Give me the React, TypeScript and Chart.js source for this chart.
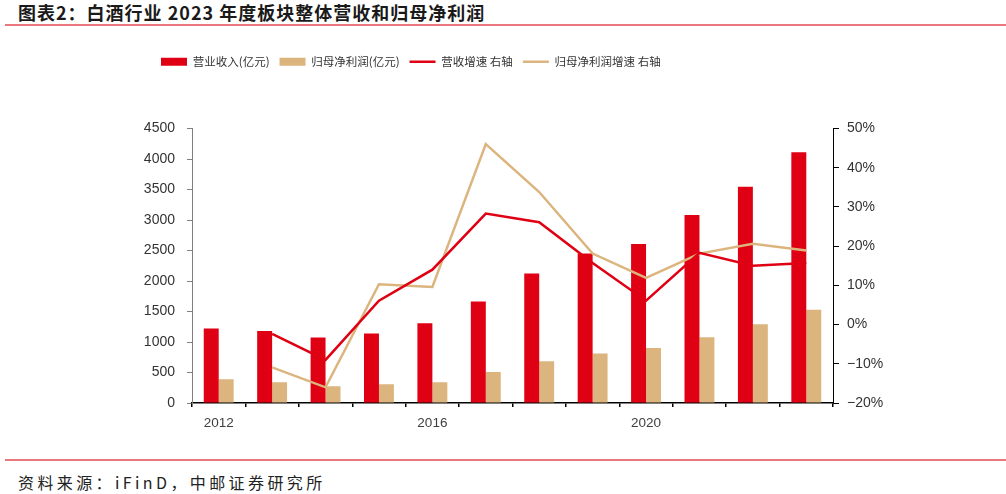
import React, { useEffect, useRef } from 'react';
import { Chart, registerables } from 'chart.js';

Chart.register(...registerables);

const years = ['2012', '2013', '2014', '2015', '2016', '2017', '2018', '2019', '2020', '2021', '2022', '2023'];
const shownYearLabels = ['2012', '2016', '2020'];
const revenue = [1220, 1182, 1073, 1138, 1309, 1664, 2124, 2452, 2606, 3083, 3547, 4111];
const netProfit = [389, 340, 274, 307, 340, 509, 685, 810, 903, 1079, 1292, 1527];
const revenueGrowth = [null, -2.4, -9.0, 6.1, 14.0, 28.3, 26.1, 15.7, 6.1, 18.3, 15.0, 15.7];
const profitGrowth = [null, -10.9, -16.0, 10.3, 9.6, 46.0, 33.8, 18.1, 11.9, 18.1, 20.6, 18.9];
const seriesNames = ['营业收入(亿元)', '归母净利润(亿元)', '营收增速 右轴', '归母净利润增速 右轴'];

const RED = '#E00014';
const TAN = '#DCB47E';
const CJK = "'Noto Sans CJK SC', sans-serif";
const SANS = "'Liberation Sans', Arial, sans-serif";

const legendShift = {
  id: 'legendShift',
  afterLayout(chart: any) {
    const lg = chart.legend;
    if (lg) {
      lg.left += 11;
      lg.right += 11;
    }
  },
};

function ChartView() {
  const ref = useRef<HTMLCanvasElement | null>(null);
  useEffect(() => {
    if (!ref.current) return;
    const chart = new Chart(ref.current, {
      type: 'bar',
      data: {
        labels: years,
        datasets: [
          { type: 'bar', label: seriesNames[0], data: revenue, backgroundColor: RED, borderWidth: 0, yAxisID: 'y', order: 2, categoryPercentage: 0.56, barPercentage: 1.0 },
          { type: 'bar', label: seriesNames[1], data: netProfit, backgroundColor: TAN, borderWidth: 0, yAxisID: 'y', order: 2, categoryPercentage: 0.56, barPercentage: 1.0 },
          { type: 'line', label: seriesNames[2], data: revenueGrowth, borderColor: RED, backgroundColor: RED, borderWidth: 2.5, pointRadius: 0, tension: 0, yAxisID: 'y1', order: 1 },
          { type: 'line', label: seriesNames[3], data: profitGrowth, borderColor: TAN, backgroundColor: TAN, borderWidth: 2.5, pointRadius: 0, tension: 0, yAxisID: 'y1', order: 1 },
        ],
      } as any,
      options: {
        responsive: false,
        animation: false,
        layout: { padding: { top: 12, left: 140, right: 93, bottom: 21 } },
        plugins: {
          tooltip: { enabled: false },
          title: {
            display: true,
            text: '',
            weight: 500,
            font: { size: 10, lineHeight: 1 },
            padding: { top: 0, bottom: 41 },
          } as any,
          legend: {
            display: true,
            position: 'top',
            align: 'start',
            labels: {
              usePointStyle: true,
              pointStyleWidth: 26,
              boxHeight: 8,
              padding: 10,
              color: '#333333',
              font: { family: CJK, size: 11.5 },
              sort: (a: any, b: any) => a.datasetIndex - b.datasetIndex,
              generateLabels: (c: any) => {
                const items = (Chart.defaults.plugins.legend.labels as any).generateLabels(c);
                return items.map((it: any) => ({ ...it, pointStyle: it.datasetIndex < 2 ? 'rect' : 'line' }));
              },
            },
          },
        },
        scales: {
          x: {
            type: 'category',
            offset: true,
            grid: { display: true, drawOnChartArea: false, drawTicks: true, tickLength: 4, color: '#000000', lineWidth: 1.5, offset: true },
            border: { display: true, color: '#000000', width: 1.5 },
            ticks: {
              autoSkip: false,
              maxRotation: 0,
              padding: 8,
              color: '#404040',
              font: { family: SANS, size: 13.5 },
              callback: (_v: any, i: number) => (shownYearLabels.includes(years[i]) ? years[i] : ''),
            },
            afterFit: (s: any) => { s.height = 30; },
          },
          y: {
            position: 'left',
            min: 0,
            max: 4500,
            grid: { display: true, drawOnChartArea: false, drawTicks: true, tickLength: 5, color: '#808080' },
            border: { display: true, color: '#808080', width: 1 },
            ticks: { stepSize: 500, padding: 12, color: '#333333', font: { family: SANS, size: 14 }, callback: (v: any) => String(v) },
            afterFit: (s: any) => { s.width = 52; },
          },
          y1: {
            position: 'right',
            min: -20,
            max: 50,
            grid: { display: true, drawOnChartArea: false, drawTicks: true, tickLength: 6, color: '#000000' },
            border: { display: true, color: '#000000', width: 1 },
            ticks: {
              stepSize: 10,
              padding: 8,
              color: '#333333',
              font: { family: SANS, size: 14 },
              callback: (v: any) => (v < 0 ? '\u2212' + Math.abs(v) : String(v)) + '%',
            },
            afterFit: (s: any) => { s.width = 80; },
          },
        },
      } as any,
      plugins: [legendShift],
    });
    return () => chart.destroy();
  }, []);
  return <canvas ref={ref} width={1006} height={420} style={{ position: 'absolute', left: 0, top: 34, width: 1006, height: 420, display: 'block' }} />;
}

export default function App() {
  return (
    <div style={{ position: 'fixed', left: 0, top: 0, width: 1006, height: 494, background: '#ffffff', overflow: 'hidden' }}>
      <div style={{ position: 'absolute', left: 18, top: 0, height: 25, lineHeight: '25px', fontFamily: CJK, fontWeight: 700, fontSize: 18, letterSpacing: 1, color: '#1a1a1a', whiteSpace: 'nowrap' }}>
        图表2：白酒行业 2023 年度板块整体营收和归母净利润
      </div>
      <div style={{ position: 'absolute', left: 5, top: 24, width: 1001, height: 2, background: '#E8777E' }} />
      <ChartView />
      <div style={{ position: 'absolute', left: 5, top: 459, width: 1001, height: 2, background: '#E8777E' }} />
      <div style={{ position: 'absolute', left: 18, top: 470, height: 24, lineHeight: '24px', fontFamily: CJK, fontSize: 16, letterSpacing: 3.4, color: '#222222', whiteSpace: 'nowrap' }}>
        资料来源：iFinD，中邮证券研究所
      </div>
    </div>
  );
}
